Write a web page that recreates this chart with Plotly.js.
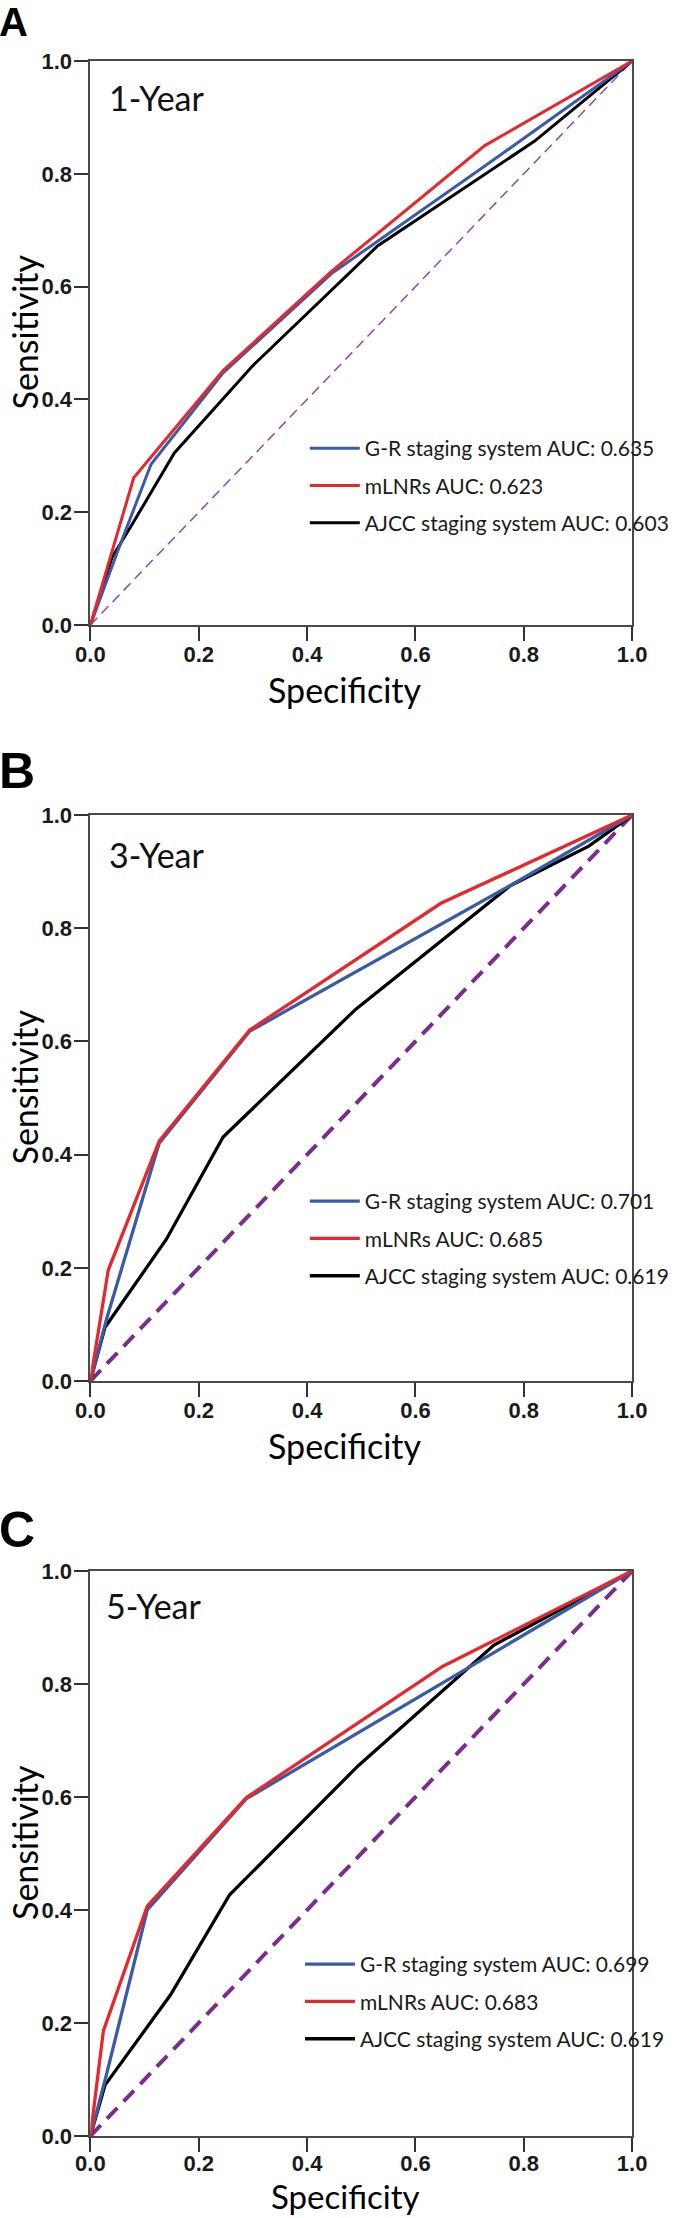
<!DOCTYPE html>
<html>
<head>
<meta charset="utf-8">
<script src="https://cdn.plot.ly/plotly-3.0.1.min.js"></script>
<style>html,body{margin:0;padding:0;background:#fff}#chart{width:675px;height:2218px}</style>
</head>
<body>
<div id="chart"></div>
<script>
// ---------------- data ----------------
const panelLetters = ["A", "B", "C"];
const panelTitles = ["1-Year", "3-Year", "5-Year"];
const seriesNames = ["G-R staging system", "mLNRs", "AJCC staging system"];
const aucA = ["0.635", "0.623", "0.603"];
const aucB = ["0.701", "0.685", "0.619"];
const aucC = ["0.699", "0.683", "0.619"];
const tickVals = [0, 0.2, 0.4, 0.6, 0.8, 1.0];
const tickText = ["0.0", "0.2", "0.4", "0.6", "0.8", "1.0"];
const diagX = [0, 1];
const diagY = [0, 1];

// Panel A (1-Year)
const specA_GR = [0, 0.05, 0.112, 0.245, 0.445, 0.73, 1];
const sensA_GR = [0, 0.13, 0.285, 0.447, 0.623, 0.815, 1];
const specA_mLNR = [0, 0.08, 0.245, 0.445, 0.728, 1];
const sensA_mLNR = [0, 0.261, 0.451, 0.627, 0.850, 1];
const specA_AJCC = [0, 0.04, 0.075, 0.155, 0.30, 0.53, 0.82, 1];
const sensA_AJCC = [0, 0.12, 0.175, 0.305, 0.46, 0.672, 0.858, 1];

// Panel B (3-Year)
const specB_GR = [0, 0.03, 0.127, 0.294, 0.78, 1];
const sensB_GR = [0, 0.11, 0.42, 0.618, 0.878, 1];
const specB_mLNR = [0, 0.033, 0.127, 0.294, 0.647, 1];
const sensB_mLNR = [0, 0.196, 0.424, 0.62, 0.844, 1];
const specB_AJCC = [0, 0.027, 0.14, 0.245, 0.49, 0.775, 0.92, 1];
const sensB_AJCC = [0, 0.095, 0.25, 0.431, 0.657, 0.875, 0.945, 1];

// Panel C (5-Year)
const specC_GR = [0, 0.03, 0.105, 0.288, 1];
const sensC_GR = [0, 0.11, 0.40, 0.597, 1];
const specC_mLNR = [0, 0.024, 0.105, 0.288, 0.65, 1];
const sensC_mLNR = [0, 0.186, 0.407, 0.599, 0.831, 1];
const specC_AJCC = [0, 0.027, 0.148, 0.257, 0.494, 0.745, 1];
const sensC_AJCC = [0, 0.09, 0.25, 0.427, 0.655, 0.869, 1];

// ---------------- layout helpers ----------------
const W = 675, H = 2218;
const px = v => v / W;
const py = v => 1 - v / H;
const colors = ["#3a5ba8", "#e8272d", "#000000"];
const plotLeft = 94.3, plotRight = 659.5;
const panels = [
  {top: 61, bottom: 625, lw: 3, diagW: 1.5, diagDash: "10px,6px", diagColor: "#9246b0",
   spec: [specA_GR, specA_mLNR, specA_AJCC], sens: [sensA_GR, sensA_mLNR, sensA_AJCC], auc: aucA,
   letterY: 22, letterSize: 40, titleY: 97, titleX: 112, legTop: 428, legX: 318,
   xStand: -5, specOff: 64, specSize: 34},
  {top: 815, bottom: 1381, lw: 3.3, diagW: 4, diagDash: "15px,9px", diagColor: "#7a2d8c",
   spec: [specB_GR, specB_mLNR, specB_AJCC], sens: [sensB_GR, sensB_mLNR, sensB_AJCC], auc: aucB,
   letterY: 771, letterSize: 50, titleY: 854, titleX: 112, legTop: 1181, legX: 318,
   xStand: -5, specOff: 64, specSize: 34},
  {top: 1571, bottom: 2136, lw: 3.3, diagW: 4, diagDash: "15px,9px", diagColor: "#7a2d8c",
   spec: [specC_GR, specC_mLNR, specC_AJCC], sens: [sensC_GR, sensC_mLNR, sensC_AJCC], auc: aucC,
   letterY: 1530, letterSize: 50, titleY: 1605, titleX: 109, legTop: 1944, legX: 313,
   xStand: -7, specOff: 60, specSize: 33}
];

const data = [];
const layout = {
  width: W, height: H, margin: {l: 0, r: 0, t: 0, b: 0},
  paper_bgcolor: "#fff", plot_bgcolor: "#fff", showlegend: true,
  annotations: [], font: {family: "Lato, 'Liberation Sans', sans-serif", color: "#111"}
};

panels.forEach((p, i) => {
  const n = i === 0 ? "" : String(i + 1);
  const xa = "x" + n, ya = "y" + n;
  const legName = i === 0 ? "legend" : "legend" + (i + 1);
  // diagonal reference
  data.push({x: diagX, y: diagY, xaxis: xa, yaxis: ya, mode: "lines", showlegend: false,
    hoverinfo: "skip", line: {color: p.diagColor, width: p.diagW, dash: p.diagDash}});
  // ROC curves: draw AJCC first, then G-R, then mLNRs on top, legend order preserved
  const order = [2, 0, 1];
  order.forEach(k => {
    data.push({x: p.spec[k], y: p.sens[k], xaxis: xa, yaxis: ya, mode: "lines",
      name: seriesNames[k] + " AUC: " + p.auc[k], legend: legName, legendgroup: "g" + i + "_" + k,
      legendrank: k + 1,
      line: {color: colors[k], width: p.lw}});
  });
  const axBase = {
    range: [0, 1], tickvals: tickVals, ticktext: tickText, showgrid: false, zeroline: false,
    showline: true, mirror: true, linecolor: "#4a4a4a", linewidth: 2,
    ticks: "outside", ticklen: 14, tickwidth: 2, tickcolor: "#333",
    tickfont: {family: "'Liberation Sans', Arial, sans-serif", size: 22, weight: "bold", color: "#1a1a1a"},
    fixedrange: true
  };
  layout["xaxis" + n] = Object.assign({}, axBase, {domain: [px(plotLeft), px(plotRight)], anchor: ya, ticklabelstandoff: p.xStand});
  layout["yaxis" + n] = Object.assign({}, axBase, {domain: [py(p.bottom), py(p.top)], anchor: xa, ticklabelstandoff: -2});
  layout[legName] = {x: px(p.legX), y: py(p.legTop), xanchor: "left", yanchor: "top",
    bgcolor: "rgba(0,0,0,0)", borderwidth: 0, tracegroupgap: 7, itemwidth: 50,
    font: {family: "Lato, sans-serif", size: 21, color: "#1a1a1a"}};
  // panel letter
  layout.annotations.push({xref: "paper", yref: "paper", x: px(-3), y: py(p.letterY), xanchor: "left", yanchor: "middle",
    text: panelLetters[i], showarrow: false,
    font: {family: "'Liberation Sans', Arial, sans-serif", size: p.letterSize, weight: "bold", color: "#000"}});
  // year label
  layout.annotations.push({xref: "paper", yref: "paper", x: px(p.titleX), y: py(p.titleY), xanchor: "left", yanchor: "middle",
    text: panelTitles[i], showarrow: false, font: {family: "Lato, sans-serif", size: 34, color: "#111"}});
  // axis titles
  layout.annotations.push({xref: "paper", yref: "paper", x: px(25.5), y: py((p.top + p.bottom) / 2 - 11), xanchor: "center", yanchor: "middle",
    text: "Sensitivity", textangle: -90, showarrow: false, font: {family: "Lato, sans-serif", size: 34, color: "#000"}});
  layout.annotations.push({xref: "paper", yref: "paper", x: px(360), y: py(p.bottom + p.specOff), xanchor: "center", yanchor: "middle",
    text: "Specificity", showarrow: false, font: {family: "Lato, sans-serif", size: p.specSize, color: "#000"}});
});

Plotly.newPlot("chart", data, layout, {displayModeBar: false, staticPlot: true});
</script>
</body>
</html>
